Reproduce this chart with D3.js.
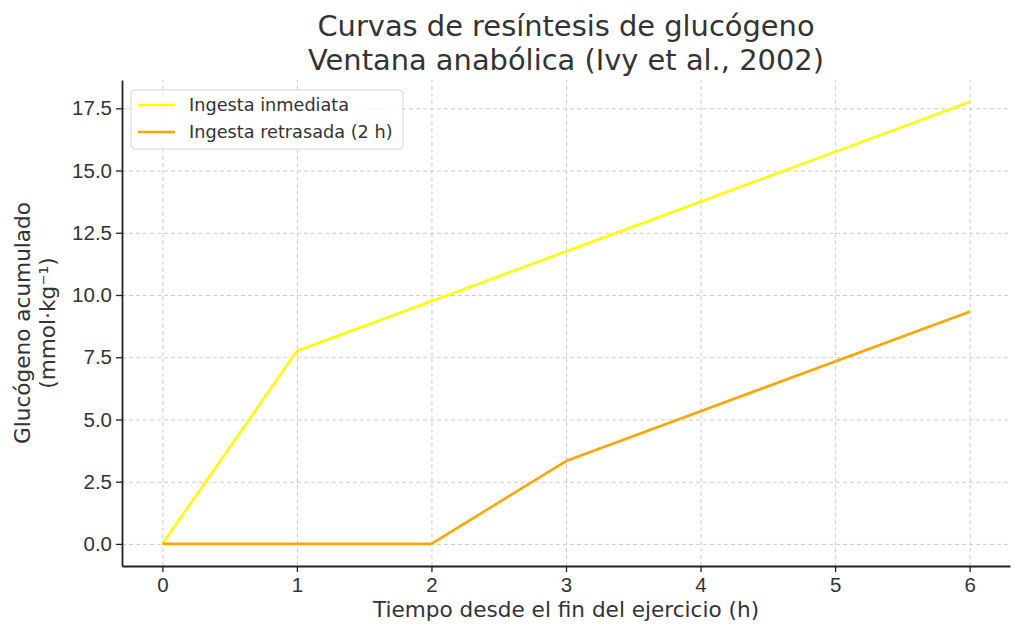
<!DOCTYPE html>
<html>
<head>
<meta charset="utf-8">
<script src="https://cdn.jsdelivr.net/npm/d3@7"></script>
<style>
  body { margin: 0; background: #fff; }
  svg { font-family: "DejaVu Sans", sans-serif; }
  .grid line { stroke: #cccccc; stroke-dasharray: 4,3; stroke-width: 1; }
  .grid .domain { display: none; }
  .axis .domain { stroke: #222; stroke-width: 1.8; }
  .axis line { stroke: #222; stroke-width: 1.3; }
  .axis text { fill: #333; font-size: 20.5px; }
</style>
</head>
<body>
<div id="chart"></div>
<script>
// Data
var hours = [0, 1, 2, 3, 4, 5, 6];
var immediate = [0, 7.75, 9.75, 11.75, 13.75, 15.75, 17.75];
var delayed = [0, 0, 0, 3.33, 5.33, 7.33, 9.33];
var seriesNames = ["Ingesta inmediata", "Ingesta retrasada (2 h)"];
var seriesColors = ["#ffff00", "#ffa500"];
var yTicks = [0, 2.5, 5, 7.5, 10, 12.5, 15, 17.5];

var width = 1024;
var height = 635;
var margins = { top: 80, right: 14, bottom: 69, left: 122 };
var chartWidth = width - margins.left - margins.right;
var chartHeight = height - margins.top - margins.bottom;

var svg = d3.select("#chart")
  .append("svg")
  .attr("width", width)
  .attr("height", height);

var chartElement = svg.append("g")
  .attr("transform", `translate(${margins.left},${margins.top})`);

var xScale = d3.scaleLinear()
  .domain([-0.3, 6.3])
  .range([0, chartWidth]);

var yMax = d3.max(immediate);
var yScale = d3.scaleLinear()
  .domain([-yMax * 0.05, yMax * 1.05])
  .range([chartHeight, 0]);

// Grid
chartElement.append("g")
  .attr("class", "x grid")
  .attr("transform", `translate(0,${chartHeight})`)
  .call(d3.axisBottom(xScale).tickValues(hours).tickSize(-chartHeight).tickFormat(""));

chartElement.append("g")
  .attr("class", "y grid")
  .call(d3.axisLeft(yScale).tickValues(yTicks).tickSize(-chartWidth).tickFormat(""));

// Lines
var line = d3.line()
  .x((d, i) => xScale(hours[i]))
  .y(d => yScale(d));

[immediate, delayed].forEach(function(values, i) {
  chartElement.append("path")
    .datum(values)
    .attr("fill", "none")
    .attr("stroke", seriesColors[i])
    .attr("stroke-width", 2.6)
    .attr("stroke-linejoin", "round")
    .attr("d", line);
});

// Axes
chartElement.append("g")
  .attr("class", "x axis")
  .attr("transform", `translate(0,${chartHeight})`)
  .call(d3.axisBottom(xScale).tickValues(hours).tickSize(6).tickPadding(5).tickSizeOuter(0)
    .tickFormat(d3.format("d")));

chartElement.append("g")
  .attr("class", "y axis")
  .call(d3.axisLeft(yScale).tickValues(yTicks).tickSize(6).tickPadding(4).tickSizeOuter(0)
    .tickFormat(d3.format(".1f")));

// Title
svg.append("text")
  .attr("x", margins.left + chartWidth / 2)
  .attr("y", 36)
  .attr("text-anchor", "middle")
  .attr("fill", "#333")
  .style("font-size", "28.9px")
  .text("Curvas de resíntesis de glucógeno");

svg.append("text")
  .attr("x", margins.left + chartWidth / 2)
  .attr("y", 70)
  .attr("text-anchor", "middle")
  .attr("fill", "#333")
  .style("font-size", "28.9px")
  .text("Ventana anabólica (Ivy et al., 2002)");

// Axis labels
svg.append("text")
  .attr("x", margins.left + chartWidth / 2)
  .attr("y", 617)
  .attr("text-anchor", "middle")
  .attr("fill", "#333")
  .style("font-size", "21.6px")
  .text("Tiempo desde el fin del ejercicio (h)");

var yLabel = svg.append("g")
  .attr("transform", `translate(0,${margins.top + chartHeight / 2}) rotate(-90)`);

yLabel.append("text")
  .attr("x", 0)
  .attr("y", 30)
  .attr("text-anchor", "middle")
  .attr("fill", "#333")
  .style("font-size", "21.6px")
  .text("Glucógeno acumulado");

yLabel.append("text")
  .attr("x", 0)
  .attr("y", 55)
  .attr("text-anchor", "middle")
  .attr("fill", "#333")
  .style("font-size", "21.6px")
  .text("(mmol·kg⁻¹)");

// Legend
var legend = svg.append("g")
  .attr("transform", "translate(131,90)");

legend.append("rect")
  .attr("width", 272)
  .attr("height", 59)
  .attr("rx", 4)
  .attr("fill", "#fff")
  .attr("fill-opacity", 0.8)
  .attr("stroke", "#d5d5d5");

seriesNames.forEach(function(name, i) {
  var y = 15 + i * 27;
  legend.append("line")
    .attr("x1", 7).attr("x2", 44)
    .attr("y1", y).attr("y2", y)
    .attr("stroke", seriesColors[i])
    .attr("stroke-width", 2.6);
  legend.append("text")
    .attr("x", 58)
    .attr("y", y + 6)
    .attr("fill", "#333")
    .style("font-size", "17.7px")
    .text(name);
});
</script>
</body>
</html>
